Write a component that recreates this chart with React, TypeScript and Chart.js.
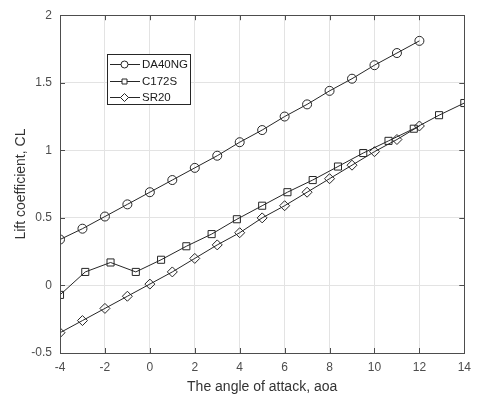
import React, { useEffect, useRef } from "react";
import { Chart, registerables } from "chart.js";

Chart.register(...registerables);

const daAoa = [-4, -3, -2, -1, 0, 1, 2, 3, 4, 5, 6, 7, 8, 9, 10, 11, 12];
const daCL = [0.34, 0.42, 0.51, 0.6, 0.69, 0.78, 0.87, 0.96, 1.06, 1.15, 1.25, 1.34, 1.44, 1.53, 1.63, 1.72, 1.81];

const cAoa = [-4, -2.875, -1.75, -0.625, 0.5, 1.625, 2.75, 3.875, 5, 6.125, 7.25, 8.375, 9.5, 10.625, 11.75, 12.875, 14];
const cCL = [-0.07, 0.1, 0.17, 0.1, 0.19, 0.29, 0.38, 0.49, 0.59, 0.69, 0.78, 0.88, 0.98, 1.07, 1.16, 1.26, 1.35];

const sAoa = [-4, -3, -2, -1, 0, 1, 2, 3, 4, 5, 6, 7, 8, 9, 10, 11, 12];
const sCL = [-0.35, -0.26, -0.17, -0.08, 0.01, 0.1, 0.2, 0.3, 0.39, 0.5, 0.59, 0.69, 0.79, 0.89, 0.99, 1.08, 1.18];

const seriesNames = ["DA40NG", "C172S", "SR20"];
const pointStyles = ["circle", "rect", "rectRot"];
const pointRadii = [4.5, 5, 5];

const xTitle = "The angle of attack, aoa";
const yTitle = "Lift coefficient, CL";

const FONT = "'Liberation Sans', Arial, sans-serif";
const LINE = "#262626";
const AXIS = "#4d4d4d";

const toPts = (xs: number[], ys: number[]) => xs.map((x, i) => ({ x, y: ys[i] }));

const boxPlugin = {
  id: "boxPlugin",
  afterDraw(chart: any) {
    const { ctx, chartArea: a, scales } = chart;
    ctx.save();
    ctx.strokeStyle = AXIS;
    ctx.lineWidth = 1;
    const tl = 5;
    ctx.beginPath();
    scales.x.ticks.forEach((t: any) => {
      const px = Math.round(scales.x.getPixelForValue(t.value)) + 0.5;
      ctx.moveTo(px, a.bottom);
      ctx.lineTo(px, a.bottom - tl);
      ctx.moveTo(px, a.top);
      ctx.lineTo(px, a.top + tl);
    });
    scales.y.ticks.forEach((t: any) => {
      const py = Math.round(scales.y.getPixelForValue(t.value)) + 0.5;
      ctx.moveTo(a.left, py);
      ctx.lineTo(a.left + tl, py);
      ctx.moveTo(a.right, py);
      ctx.lineTo(a.right - tl, py);
    });
    ctx.stroke();
    ctx.strokeRect(Math.round(a.left) + 0.5, Math.round(a.top) + 0.5, Math.round(a.right - a.left), Math.round(a.bottom - a.top));

    // legend
    const lx = 107.5, ly = 54.5, lw = 83, lh = 50;
    ctx.fillStyle = "#ffffff";
    ctx.fillRect(lx, ly, lw, lh);
    ctx.strokeStyle = "#262626";
    ctx.strokeRect(lx, ly, lw, lh);
    const rows = [64, 81, 97];
    ctx.font = `11.5px ${FONT}`;
    ctx.textBaseline = "middle";
    ctx.textAlign = "left";
    rows.forEach((ry, i) => {
      ctx.strokeStyle = LINE;
      ctx.beginPath();
      ctx.moveTo(110, ry + 0.5);
      ctx.lineTo(140, ry + 0.5);
      ctx.stroke();
      ctx.beginPath();
      const cx = 124.5, cy = ry + 0.5;
      if (pointStyles[i] === "circle") {
        ctx.arc(cx, cy, 3.5, 0, Math.PI * 2);
      } else if (pointStyles[i] === "rect") {
        ctx.rect(cx - 2.5, cy - 2.5, 5, 5);
      } else {
        ctx.moveTo(cx, cy - 4);
        ctx.lineTo(cx + 4, cy);
        ctx.lineTo(cx, cy + 4);
        ctx.lineTo(cx - 4, cy);
        ctx.closePath();
      }
      ctx.fillStyle = "#fff";
      ctx.fill();
      ctx.stroke();
      ctx.fillStyle = "#1a1a1a";
      ctx.fillText(seriesNames[i], 142, ry + 1);
    });
    ctx.restore();
  },
};

export default function App() {
  const ref = useRef<HTMLCanvasElement>(null);
  useEffect(() => {
    document.body.style.margin = "0";
    const mk = (i: number, data: any) => ({
      label: seriesNames[i],
      data,
      showLine: true,
      borderColor: LINE,
      borderWidth: 1,
      backgroundColor: "rgba(0,0,0,0)",
      pointStyle: pointStyles[i],
      pointRadius: pointRadii[i],
      pointBorderColor: LINE,
      pointBorderWidth: 1,
      pointBackgroundColor: "rgba(0,0,0,0)",
    });
    const chart = new Chart(ref.current as HTMLCanvasElement, {
      type: "scatter",
      data: {
        datasets: [mk(0, toPts(daAoa, daCL)), mk(1, toPts(cAoa, cCL)), mk(2, toPts(sAoa, sCL))],
      },
      options: {
        animation: false,
        responsive: false,
        layout: { padding: { top: 15, right: 12, left: 0, bottom: 0 } },
        plugins: { legend: { display: false }, tooltip: { enabled: false } },
        scales: {
          x: {
            min: -4,
            max: 14,
            afterFit: (s: any) => { s.height = 43; },
            ticks: { stepSize: 2, color: AXIS, font: { family: FONT, size: 12 }, padding: 7, maxRotation: 0, callback: (v: any) => String(v) },
            grid: { color: "#e3e3e3", drawTicks: false },
            border: { display: false },
            title: { display: true, text: xTitle, color: "#333", font: { family: FONT, size: 14 }, padding: { top: 2, bottom: 0 } },
          },
          y: {
            min: -0.5,
            max: 2,
            afterFit: (s: any) => { s.width = 60; },
            ticks: { stepSize: 0.5, color: AXIS, font: { family: FONT, size: 12 }, padding: 8, callback: (v: any) => String(v) },
            grid: { color: "#e3e3e3", drawTicks: false },
            border: { display: false },
            title: { display: true, text: yTitle, color: "#333", font: { family: FONT, size: 14 }, padding: { top: 13, bottom: 4 } },
          },
        },
      } as any,
      plugins: [boxPlugin],
    });
    return () => chart.destroy();
  }, []);
  return <canvas ref={ref} width={478} height={396} style={{ display: "block" }} />;
}
